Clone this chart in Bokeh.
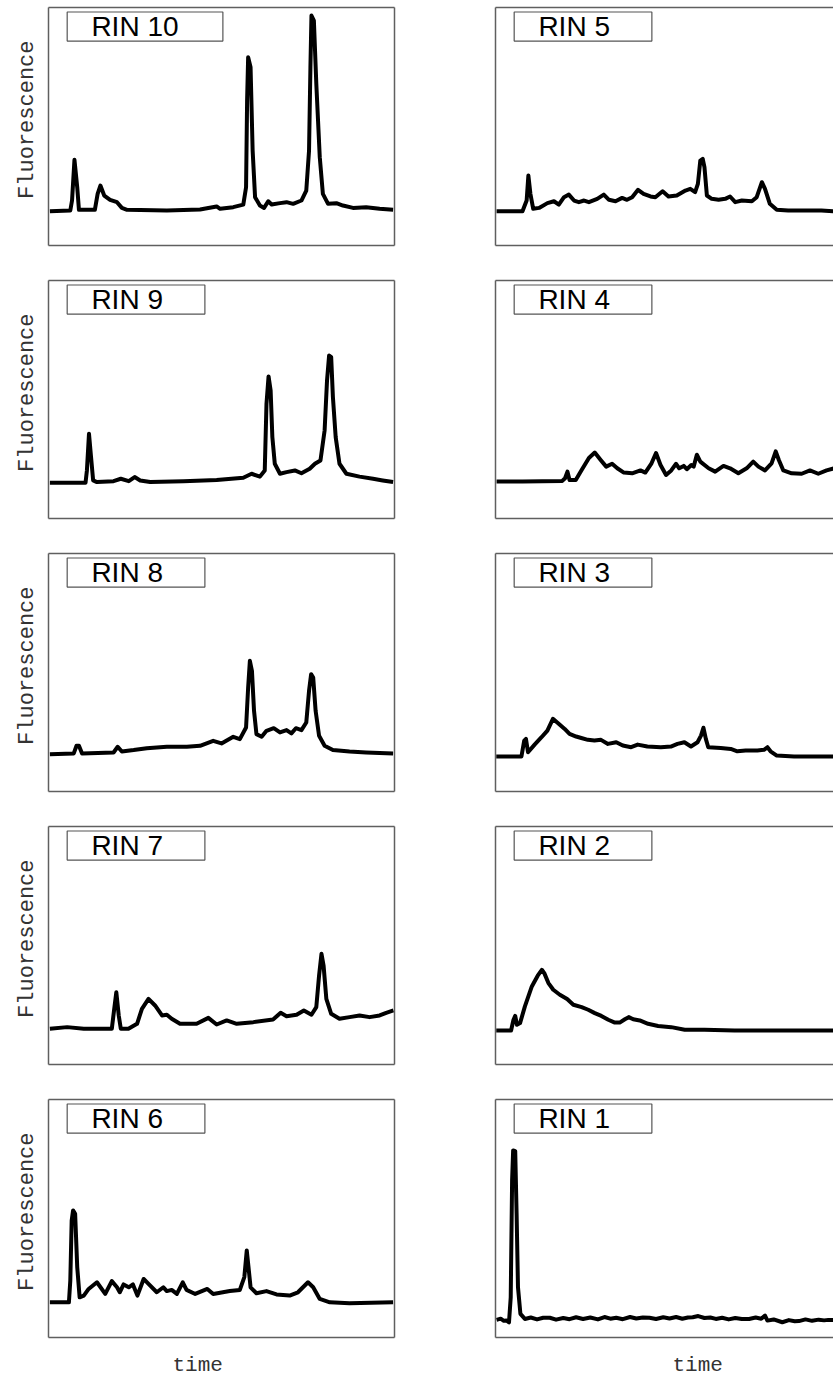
from bokeh.plotting import figure
from bokeh.layouts import column, row
from bokeh.models import BoxAnnotation, Label, Title, Range1d, LinearAxis, FixedTicker
from bokeh.embed import file_html
from bokeh.resources import INLINE

# ---------------- data (time in % of window, fluorescence in % of panel) ----------------
rin10_x = [0.4, 6.3, 6.8, 7.5, 8.3, 8.8, 13.4, 14.2, 15.0, 16.1, 17.8, 19.8, 21.2, 22.7, 34.2, 43.8,
           48.6, 49.6, 53.4, 56.3, 57.1, 57.4, 57.7, 58.4, 59.0, 59.7, 61.1, 62.3, 63.5, 64.5, 66.9,
           68.8, 70.7, 73.1, 74.5, 75.3, 75.7, 76.0, 76.7, 77.4, 78.4, 79.3, 80.8, 83.2, 85.1, 88.0,
           91.8, 95.7, 99.6]
rin10_y = [14.4, 14.7, 18.9, 36.0, 24.5, 15.0, 15.0, 21.7, 25.2, 21.0, 19.2, 18.2, 15.8, 15.0, 14.7, 15.1,
           16.4, 15.4, 16.1, 17.2, 24.5, 60.9, 79.1, 74.9, 39.9, 20.3, 16.8, 15.8, 18.6, 17.2, 17.8,
           18.2, 17.5, 18.9, 23.1, 39.9, 74.9, 96.6, 94.5, 67.9, 37.1, 21.7, 17.5, 17.8, 16.8, 15.8,
           16.1, 15.4, 15.0]

rin9_x = [0.4, 10.7, 11.1, 11.7, 12.3, 12.9, 14.0, 18.8, 20.9, 23.2, 24.9, 26.5, 29.4, 39.0, 48.6, 56.3,
          58.7, 61.1, 62.5, 63.0, 63.6, 64.2, 64.7, 65.4, 66.9, 68.8, 71.2, 73.1, 75.5, 77.0, 78.6,
          79.8, 80.5, 81.1, 81.7, 82.2, 83.0, 84.1, 86.1, 89.9, 93.8, 96.6, 99.6]
rin9_y = [15.0, 15.0, 20.2, 35.6, 25.8, 16.0, 15.3, 15.7, 16.7, 15.7, 17.4, 16.0, 15.3, 15.7, 16.2, 17.1,
          18.8, 17.6, 20.2, 48.2, 59.7, 53.8, 34.2, 23.0, 18.8, 19.5, 20.2, 19.0, 20.9, 23.0, 24.4,
          37.0, 58.0, 68.5, 67.8, 51.0, 34.2, 23.0, 18.8, 17.6, 16.7, 16.0, 15.3]

rin8_x = [0.4, 7.3, 8.1, 8.8, 9.7, 18.8, 20.0, 21.2, 24.6, 28.4, 34.2, 40.0, 43.8, 47.6, 50.0, 53.4,
          55.3, 57.1, 57.7, 58.2, 58.8, 59.4, 60.1, 61.6, 63.0, 65.1, 66.9, 68.8, 70.2, 71.5, 73.1,
          74.5, 75.3, 75.9, 76.5, 77.2, 78.2, 79.8, 82.2, 87.0, 91.8, 99.6]
rin8_y = [15.7, 16.0, 19.2, 19.2, 16.0, 16.4, 18.8, 16.8, 17.4, 18.2, 18.8, 18.8, 19.2, 21.3, 20.2, 23.0,
          22.0, 26.9, 43.7, 54.9, 50.7, 33.9, 24.1, 23.0, 25.5, 26.6, 24.8, 25.8, 24.4, 26.6, 25.8,
          29.0, 42.3, 49.3, 47.9, 33.9, 23.4, 19.2, 17.4, 16.8, 16.4, 16.0]

rin7_x = [0.4, 5.4, 10.2, 18.3, 19.0, 19.6, 20.3, 20.9, 23.1, 25.6, 27.0, 28.9, 30.8, 32.8, 34.2, 35.6,
          38.0, 42.8, 46.2, 48.6, 51.5, 54.4, 59.2, 64.9, 67.1, 68.8, 71.7, 73.8, 76.0, 77.4, 78.2,
          78.9, 79.5, 80.3, 81.7, 84.1, 87.0, 89.9, 92.8, 95.7, 97.6, 99.7]
rin7_y = [15.0, 15.7, 15.0, 15.0, 23.4, 30.4, 20.6, 15.0, 15.0, 17.1, 23.4, 27.6, 24.8, 20.6, 20.9, 19.2,
          17.1, 17.1, 19.6, 16.8, 18.5, 17.1, 17.8, 18.9, 21.7, 20.3, 20.9, 22.7, 20.9, 24.1, 37.4,
          46.5, 41.6, 27.6, 21.3, 19.2, 19.9, 20.6, 19.9, 20.6, 21.7, 22.7]

rin6_x = [0.4, 5.9, 6.3, 6.7, 7.1, 7.7, 8.3, 9.0, 10.2, 11.6, 14.0, 16.4, 18.3, 19.8, 20.6, 21.7,
          23.2, 24.4, 25.7, 27.5, 28.9, 31.3, 33.2, 34.2, 35.6, 37.1, 38.8, 39.9, 42.4, 45.9, 47.6,
          52.4, 55.3, 56.6, 57.3, 57.8, 58.4, 60.1, 63.0, 65.9, 69.7, 72.1, 75.0, 76.5, 78.4, 81.3,
          87.0, 99.6]
rin6_y = [14.8, 14.8, 23.9, 49.2, 53.4, 52.0, 29.6, 16.9, 17.6, 20.4, 23.2, 18.3, 23.7, 21.1, 19.0, 22.3,
          21.1, 22.3, 17.6, 24.6, 22.5, 19.0, 21.1, 19.5, 20.0, 18.3, 23.2, 20.0, 18.3, 20.4, 18.3,
          19.5, 20.0, 25.4, 36.6, 29.6, 21.1, 18.6, 19.5, 18.1, 17.6, 19.0, 23.2, 21.1, 16.2, 14.8,
          14.4, 14.8]

rin5_x = [0.3, 7.8, 9.0, 9.5, 10.1, 10.9, 12.6, 15.0, 16.9, 18.3, 19.8, 21.2, 22.7, 24.1, 25.6, 27.0,
          29.4, 31.3, 32.8, 34.7, 36.6, 38.0, 39.5, 41.2, 42.8, 44.8, 46.2, 48.3, 50.0, 52.4, 54.9,
          56.3, 57.7, 58.5, 59.2, 59.9, 60.4, 61.1, 62.5, 64.5, 66.4, 67.8, 69.3, 71.2, 74.1, 75.5,
          77.0, 77.9, 79.3, 81.3, 84.6, 89.4, 94.2, 98.0]
rin5_y = [14.4, 14.4, 18.9, 29.4, 21.6, 15.4, 15.8, 17.8, 18.6, 17.2, 20.3, 21.4, 18.9, 18.2, 18.9, 18.2,
          19.6, 21.4, 19.2, 18.6, 20.0, 19.2, 20.3, 23.4, 21.7, 20.6, 20.3, 22.8, 20.6, 21.0, 23.1,
          23.8, 22.4, 25.9, 35.7, 36.4, 32.9, 21.0, 19.6, 19.2, 19.6, 20.6, 18.2, 18.9, 18.6, 20.3,
          26.6, 23.8, 17.5, 15.0, 14.7, 14.7, 14.7, 14.4]

rin4_x = [0.3, 7.8, 19.3, 20.1, 20.8, 21.4, 23.2, 24.9, 27.0, 28.7, 30.4, 32.0, 33.7, 35.2, 37.1, 39.5,
          41.9, 43.3, 45.1, 46.4, 47.7, 49.3, 50.8, 52.2, 53.1, 54.4, 55.3, 56.6, 57.3, 58.2, 59.2,
          61.6, 63.5, 65.9, 67.8, 70.2, 72.6, 74.5, 76.0, 77.9, 79.8, 81.0, 81.9, 83.2, 85.6, 88.5,
          90.9, 93.3, 95.7, 98.0]
rin4_y = [15.5, 15.5, 15.8, 16.9, 19.7, 16.2, 16.2, 20.4, 25.4, 27.7, 24.6, 21.8, 23.0, 21.1, 19.3, 19.0,
          20.2, 19.3, 23.2, 27.5, 22.5, 18.3, 20.2, 23.0, 21.1, 22.1, 20.7, 22.5, 21.8, 26.8, 23.9,
          21.1, 19.7, 22.1, 21.1, 19.0, 21.1, 23.9, 21.8, 20.2, 23.2, 28.2, 24.6, 20.2, 19.0, 18.8,
          20.2, 18.8, 20.2, 21.1]

rin3_x = [0.2, 7.5, 8.3, 8.8, 9.4, 11.3, 13.3, 15.0, 16.6, 18.1, 20.0, 21.4, 23.3, 24.8, 26.7, 28.6,
          30.5, 32.5, 34.9, 36.8, 39.2, 41.1, 43.9, 47.8, 50.7, 52.6, 54.6, 56.5, 58.4, 59.4, 60.1,
          60.8, 61.5, 65.1, 68.0, 69.9, 72.3, 75.7, 77.6, 78.6, 79.5, 81.3, 86.3, 98.0]
rin3_y = [14.7, 14.7, 21.4, 22.1, 16.5, 19.7, 22.8, 25.6, 30.5, 28.7, 26.3, 24.2, 23.1, 22.5, 21.7, 21.4,
          21.7, 20.0, 20.7, 19.3, 18.6, 19.7, 18.9, 18.6, 18.9, 20.0, 20.7, 18.9, 20.7, 23.5, 26.8,
          22.1, 18.6, 18.3, 17.9, 16.9, 17.2, 17.2, 17.5, 18.6, 16.9, 15.1, 14.7, 14.7]

rin2_x = [0.2, 4.5, 5.2, 5.7, 6.2, 7.1, 8.5, 10.5, 12.2, 13.4, 14.1, 15.3, 16.7, 18.6, 20.7, 22.5,
          24.9, 26.8, 28.7, 30.6, 32.6, 34.5, 35.9, 37.4, 38.5, 39.8, 41.7, 44.1, 47.0, 50.8, 54.7,
          60.4, 69.1, 83.5, 98.0]
rin2_y = [14.3, 14.3, 18.8, 20.4, 16.7, 17.4, 24.4, 32.8, 37.3, 39.8, 38.4, 34.2, 31.4, 29.3, 27.5, 25.1,
          24.1, 23.0, 21.6, 20.4, 18.8, 17.6, 17.6, 19.0, 19.9, 19.0, 18.5, 17.1, 16.2, 15.7, 14.6,
          14.6, 14.3, 14.3, 14.3]

rin1_x = [0.3, 1.5, 2.4, 3.2, 3.9, 4.4, 4.8, 5.1, 5.7, 6.1, 6.5, 7.2, 8.5, 10.2, 12.0, 13.8, 15.7,
          17.5, 19.6, 21.4, 23.3, 25.3, 27.4, 29.6, 31.5, 33.2, 34.9, 36.8, 38.9, 40.7, 42.6, 44.5,
          46.4, 48.5, 50.3, 52.2, 54.0, 55.6, 57.0, 58.6, 60.4, 62.1, 63.7, 65.5, 67.4, 69.3, 71.2,
          73.3, 75.2, 76.8, 77.9, 78.6, 80.4, 82.9, 84.8, 86.5, 87.7, 89.6, 91.5, 93.4, 95.0, 96.2,
          98.0]
rin1_y = [7.4, 7.9, 7.0, 7.1, 6.4, 16.9, 66.0, 78.6, 78.3, 52.0, 21.1, 9.9, 7.8, 8.4, 7.6, 8.3, 8.3,
          7.5, 8.2, 7.7, 8.5, 7.8, 8.4, 7.6, 8.6, 7.9, 8.3, 7.7, 8.6, 8.0, 8.4, 8.3, 7.8, 8.5, 8.0,
          8.6, 7.9, 8.4, 8.5, 9.0, 8.2, 8.4, 7.8, 8.3, 7.6, 8.2, 7.8, 7.8, 8.4, 7.9, 9.2, 7.1, 7.6, 6.4,
          7.3, 6.8, 6.9, 7.6, 7.0, 7.5, 7.2, 7.4, 7.4]

left_labels = ["RIN 10", "RIN 9", "RIN 8", "RIN 7", "RIN 6"]
right_labels = ["RIN 5", "RIN 4", "RIN 3", "RIN 2", "RIN 1"]
left_series = [(rin10_x, rin10_y), (rin9_x, rin9_y), (rin8_x, rin8_y), (rin7_x, rin7_y), (rin6_x, rin6_y)]
right_series = [(rin5_x, rin5_y), (rin4_x, rin4_y), (rin3_x, rin3_y), (rin2_x, rin2_y), (rin1_x, rin1_y)]
x_axis_title = "time"
y_axis_title = "Fluorescence"

FRAME_COLOR = "#5f5f5f"


def style_axis(ax):
    ax.ticker = FixedTicker(ticks=[])
    ax.axis_line_color = FRAME_COLOR
    ax.axis_line_width = 1.5
    ax.major_tick_line_color = None
    ax.minor_tick_line_color = None
    ax.major_tick_out = 0
    ax.major_tick_in = 0
    ax.minor_tick_out = 0
    ax.minor_tick_in = 0
    ax.major_label_text_font_size = "0px"
    ax.major_label_standoff = 0


def make_fig(label, xs, ys, side, last):
    is_left = side == "left"
    w = 420 if is_left else 413
    h = 247 if last else 273
    x_end = 100 if is_left else 97.7
    p = figure(width=w, height=h, output_backend="svg", toolbar_location=None,
               x_range=Range1d(0, x_end), y_range=Range1d(0, 100),
               min_border_left=48 if is_left else 75,
               min_border_right=26 if is_left else 0,
               min_border_top=7, min_border_bottom=2 if last else 28)
    p.outline_line_color = None
    p.grid.visible = False
    p.background_fill_color = "white"
    p.border_fill_color = "white"
    for ax in p.axis:
        style_axis(ax)
    top_ax = LinearAxis()
    style_axis(top_ax)
    p.add_layout(top_ax, "above")
    if is_left:
        right_ax = LinearAxis()
        style_axis(right_ax)
        p.add_layout(right_ax, "right")
        p.add_layout(Title(text=y_axis_title, text_font="Liberation Mono",
                           text_font_size="22px", text_font_style="normal",
                           text_color="#333333", align="right", offset=33,
                           standoff=17), "left")

    box_right = 50.4 if label == "RIN 10" else 45.2
    p.add_layout(BoxAnnotation(left=5.4, right=box_right, bottom=85.9, top=98.1,
                               fill_color="white", fill_alpha=1.0,
                               line_color="#555555", line_alpha=1.0, line_width=1.2))
    p.add_layout(Label(x=12.4, y=92.0, text=label, text_font="Liberation Sans",
                       text_font_size="28px", text_color="black",
                       text_baseline="middle", text_align="left"))
    p.line(xs, ys, line_color="black", line_width=4, line_join="round")
    return p


rows = []
for i in range(5):
    last = i == 4
    lf = make_fig(left_labels[i], left_series[i][0], left_series[i][1], "left", last)
    rf = make_fig(right_labels[i], right_series[i][0], right_series[i][1], "right", last)
    rows.append(row(lf, rf))

# caption strip carrying the shared x-axis titles under each column
cap = figure(width=833, height=39, output_backend="svg", toolbar_location=None,
             x_range=Range1d(0, 833), y_range=Range1d(0, 39),
             min_border_left=0, min_border_right=0, min_border_top=0, min_border_bottom=0)
cap.axis.visible = False
cap.grid.visible = False
cap.outline_line_color = None
cap.border_fill_color = "white"
for xpos in (172, 672):
    cap.add_layout(Label(x=xpos, y=13, text=x_axis_title, text_font="Liberation Mono",
                         text_font_size="21px", text_color="#333333",
                         text_baseline="alphabetic", text_align="left"))
rows.append(cap)

layout = column(*rows)
open("out.html", "w").write(file_html(layout, INLINE))
